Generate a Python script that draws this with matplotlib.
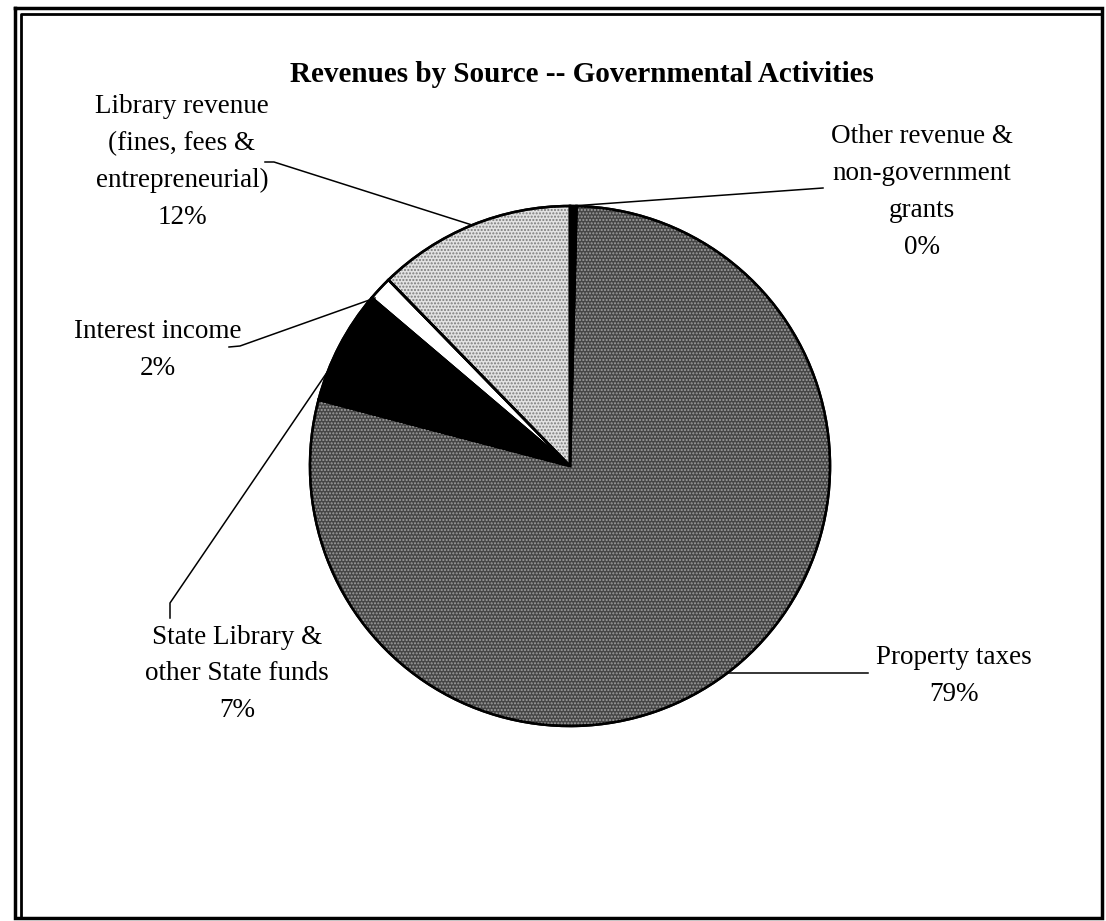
import matplotlib
matplotlib.use("Agg")
import matplotlib.pyplot as plt
from matplotlib.patches import Wedge

# data (clockwise from 12 o'clock)
labels = ["Other revenue &\nnon-government\ngrants",
          "Property taxes",
          "State Library &\nother State funds",
          "Interest income",
          "Library revenue\n(fines, fees &\nentrepreneurial)"]
shares = [0.4, 78.7, 7.1, 1.5, 12.3]
pct_text = ["0%", "79%", "7%", "2%", "12%"]

face_colors = ["#000000", "#464646", "#000000", "#ffffff", "#e2e2e2"]
dot_colors = [None, "#a0a0a0", None, None, "#7a7a7a"]

W, H = 1106, 921
plt.rcParams["font.family"] = ["Liberation Serif", "DejaVu Serif"]
plt.rcParams["hatch.linewidth"] = 1.0

fig = plt.figure(figsize=(W / 100, H / 100), dpi=100)
ax = fig.add_axes([0, 0, 1, 1])

cx, cy, R = 570, H - 466, 260

wedges, _ = ax.pie(shares, startangle=90, counterclock=False,
                   center=(cx, cy), radius=R, colors=face_colors,
                   wedgeprops=dict(edgecolor="black", linewidth=1.8))

# stipple texture on the grey slices
for w, dc in zip(wedges, dot_colors):
    if dc:
        ax.add_patch(Wedge(w.center, w.r, w.theta1, w.theta2, facecolor="none",
                           edgecolor=dc, linewidth=0, hatch="....."))
# redraw outlines on top
for w in wedges:
    ax.add_patch(Wedge(w.center, w.r, w.theta1, w.theta2, facecolor="none",
                       edgecolor="black", linewidth=1.8))

ax.set_xlim(0, W)
ax.set_ylim(0, H)
ax.set_aspect("auto")
ax.axis("off")

def Y(y):
    return H - y

ax.text(582, Y(75), "Revenues by Source -- Governmental Activities",
        ha="center", va="center", fontsize=21, fontweight="bold")

# label positions (pixel coords from top-left) and leader lines
label_pos = [(922, 192), (954, 676), (237, 674), (158, 350), (182, 162)]
leaders = [
    [(572, 206), (823, 188)],
    [(727, 673), (868, 673)],
    [(330, 368), (170, 603), (170, 618)],
    [(375, 298), (240, 346), (229, 347)],
    [(472, 225), (274, 162), (265, 162)],
]

for lab, pct, (lx, ly), pts in zip(labels, pct_text, label_pos, leaders):
    ax.text(lx, Y(ly), lab + "\n" + pct, ha="center", va="center",
            fontsize=19.5, linespacing=1.63)
    xs = [p[0] for p in pts]
    ys = [Y(p[1]) for p in pts]
    ax.plot(xs, ys, color="black", linewidth=1.1)

# double frame
ax.plot([15, 15, 1102, 1102, 15], [Y(8), Y(918), Y(918), Y(8), Y(8)],
        color="black", linewidth=2.5, solid_joinstyle="miter")
ax.plot([21, 21, 1102], [Y(918), Y(14), Y(14)], color="black", linewidth=2.0)

fig.savefig("out.png", dpi=100)
